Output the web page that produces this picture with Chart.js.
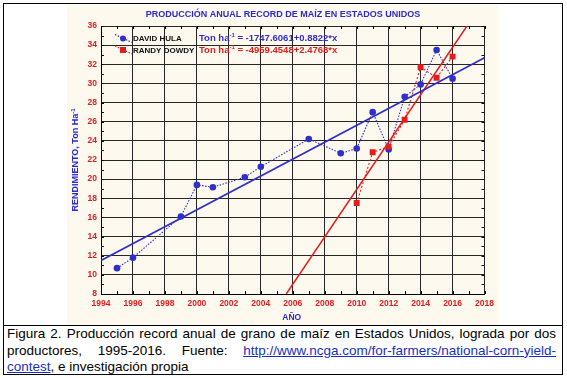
<!DOCTYPE html>
<html><head><meta charset="utf-8">
<script src="https://cdn.jsdelivr.net/npm/chart.js@4"></script>
<style>
html,body{margin:0;padding:0;background:#fff;}
#frame{position:absolute;left:3px;top:3px;width:558px;height:370px;border:1px solid #000;}
#cream{position:absolute;left:67px;top:5px;width:432px;height:320px;background:#fdf9ee;}
#sep{position:absolute;left:3px;top:325px;width:560px;height:1px;background:#000;}
#cap{position:absolute;left:7px;top:326px;width:549px;font:13.5px "Liberation Sans",Arial,sans-serif;line-height:16.5px;color:#000;}
.j{text-align:justify;text-align-last:justify;}
a{color:#1a2ec4;text-decoration:underline;}
canvas{display:block;}
</style>
</head><body>
<div id="frame"></div>
<div id="cream"><canvas id="c" width="432" height="320"></canvas></div>
<div id="sep"></div>
<div id="cap">
<div class="j">Figura 2. Producción record anual de grano de maíz en Estados Unidos, lograda por dos</div>
<div class="j">productores, 1995-2016. Fuente: <a href="#">http://www.ncga.com/for-farmers/national-corn-yield-</a></div>
<div><a href="#">contest</a>, e investigación propia</div>
</div>
<script>
// ---- data ----
const hulaYears  = [1995,1996,1999,2000,2001,2003,2004,2007,2009,2010,2011,2012,2013,2014,2015,2016];
const hulaYield  = [10.7,11.8,16.1,19.4,19.15,20.2,21.3,24.2,22.7,23.2,27.0,23.1,28.6,29.9,33.5,30.5];
const dowdyYears = [2010,2011,2012,2013,2014,2015,2016];
const dowdyYield = [17.5,22.8,23.4,26.2,31.7,30.6,32.8];
// fitted lines (end points as seen on the chart)
const hulaFitYears  = [1994, 2018];
const hulaFitYield  = [11.5, 32.67];
const dowdyFitYears = [2005.59, 2016.9];
const dowdyFitYield = [8, 36];
// axes
const xRange = [1994, 2018];
const yRange = [8, 36];
const tickStep = 2;
const titleText = 'PRODUCCIÓN ANUAL RECORD DE MAÍZ EN ESTADOS UNIDOS';
const xTitle = 'AÑO';
const yTitle = 'RENDIMIENTO, Ton Ha';
const seriesNames = ['DAVID HULA', 'RANDY DOWDY'];
const eqPrefix = 'Ton ha';
const equations = [' = -1747.6061+0.8822*x', ' = -4959.4548+2.4768*x'];

const BLUE = '#2f2fc9', RED = '#e01e1e', TBLUE = '#2a2ad0';
const FONT = '"Liberation Sans", Arial, sans-serif';

const pts = (xs, ys) => xs.map((v, i) => ({x: v, y: ys[i]}));

const deco = {
  id: 'deco',
  afterDraw(chart) {
    const {ctx, chartArea: a, scales: {x, y}} = chart;
    ctx.save();
    // minor ticks
    ctx.strokeStyle = '#000'; ctx.lineWidth = 1; ctx.setLineDash([]);
    ctx.beginPath();
    for (let v = xRange[0]; v <= xRange[1]; v++) {
      const px = Math.round(x.getPixelForValue(v)) + 0.5;
      ctx.moveTo(px, a.bottom); ctx.lineTo(px, a.bottom - 3);
      ctx.moveTo(px, a.top); ctx.lineTo(px, a.top + 3);
    }
    for (let v = yRange[0]; v <= yRange[1]; v++) {
      const py = Math.round(y.getPixelForValue(v)) + 0.5;
      ctx.moveTo(a.left, py); ctx.lineTo(a.left + 3, py);
      ctx.moveTo(a.right, py); ctx.lineTo(a.right - 3, py);
    }
    ctx.stroke();

    // title
    ctx.fillStyle = TBLUE;
    ctx.font = 'bold 9px ' + FONT;
    ctx.textAlign = 'center'; ctx.textBaseline = 'middle';
    ctx.fillText(titleText, 216, 10);
    // x title
    ctx.font = 'bold 8.5px ' + FONT;
    ctx.fillText(xTitle, (a.left + a.right) / 2 - 1, 313);
    // y title (rotated)
    ctx.save();
    ctx.translate(9, (a.top + a.bottom) / 2);
    ctx.rotate(-Math.PI / 2);
    ctx.font = 'bold 9px ' + FONT;
    const yw = ctx.measureText(yTitle).width;
    ctx.font = 'bold 6px ' + FONT;
    const sw = ctx.measureText('-1').width;
    const tot = yw + sw;
    ctx.textAlign = 'left';
    ctx.font = 'bold 9px ' + FONT;
    ctx.fillText(yTitle, -tot / 2, 0);
    ctx.font = 'bold 6px ' + FONT;
    ctx.fillText('-1', -tot / 2 + yw, -3);
    ctx.restore();

    // legend
    const rows = [33.5, 45];
    const colors = [BLUE, RED];
    rows.forEach((ry, i) => {
      const c = colors[i];
      // symbol
      ctx.strokeStyle = c; ctx.lineWidth = 1.2; ctx.setLineDash([1.5, 1.5]);
      ctx.beginPath(); ctx.moveTo(48, ry - 4); ctx.lineTo(65, ry + 4); ctx.stroke();
      ctx.setLineDash([]);
      ctx.fillStyle = c;
      if (i === 0) { ctx.beginPath(); ctx.arc(56, ry, 3, 0, Math.PI * 2); ctx.fill(); }
      else { ctx.fillRect(53, ry - 3, 6, 6); }
      // name
      ctx.fillStyle = '#111';
      ctx.font = 'bold 8px ' + FONT;
      ctx.textAlign = 'left'; ctx.textBaseline = 'middle';
      ctx.fillText(seriesNames[i], 66, ry + 0.5);
      // equation
      ctx.fillStyle = c;
      ctx.font = 'bold 9.5px ' + FONT;
      let ex = 132;
      ctx.fillText(eqPrefix, ex, ry);
      ex += ctx.measureText(eqPrefix).width;
      ctx.font = 'bold 6px ' + FONT;
      ctx.fillText('-1', ex, ry - 3);
      ex += ctx.measureText('-1').width;
      ctx.font = 'bold 9.5px ' + FONT;
      ctx.fillText(equations[i], ex, ry);
    });
    ctx.restore();
  }
};

new Chart(document.getElementById('c'), {
  type: 'scatter',
  data: {
    datasets: [
      {data: pts(hulaFitYears, hulaFitYield), showLine: true, borderColor: BLUE, borderWidth: 1.7, pointRadius: 0},
      {data: pts(dowdyFitYears, dowdyFitYield), showLine: true, borderColor: RED, borderWidth: 1.5, pointRadius: 0},
      {data: pts(dowdyYears, dowdyYield), showLine: true, borderColor: RED, borderWidth: 1.1, borderDash: [2, 2],
       pointStyle: 'rect', pointRadius: 4.2, pointBackgroundColor: RED, pointBorderColor: RED, pointBorderWidth: 0},
      {data: pts(hulaYears, hulaYield), showLine: true, borderColor: BLUE, borderWidth: 1.1, borderDash: [1.5, 1.5],
       pointStyle: 'circle', pointRadius: 3.3, pointBackgroundColor: BLUE, pointBorderColor: BLUE, pointBorderWidth: 0}
    ]
  },
  options: {
    responsive: false,
    animation: false,
    events: [],
    layout: {padding: {top: 21, right: 11, left: 0, bottom: 0}},
    plugins: {legend: {display: false}, tooltip: {enabled: false}, title: {display: false}},
    scales: {
      x: {
        type: 'linear', min: xRange[0], max: xRange[1],
        ticks: {stepSize: tickStep, color: RED, font: {family: FONT, size: 8.5, weight: 'bold'}, padding: 5, maxRotation: 0,
                callback: v => String(v)},
        grid: {color: '#262626', lineWidth: 1, drawTicks: false},
        border: {color: '#000', width: 1},
        afterFit: s => { s.height = 31; }
      },
      y: {
        type: 'linear', min: yRange[0], max: yRange[1],
        ticks: {stepSize: tickStep, color: RED, font: {family: FONT, size: 8.5, weight: 'bold'}, padding: 4},
        grid: {color: '#262626', lineWidth: 1, drawTicks: false},
        border: {color: '#000', width: 1},
        afterFit: s => { s.width = 34; }
      }
    }
  },
  plugins: [deco]
});
</script>
</body></html>
